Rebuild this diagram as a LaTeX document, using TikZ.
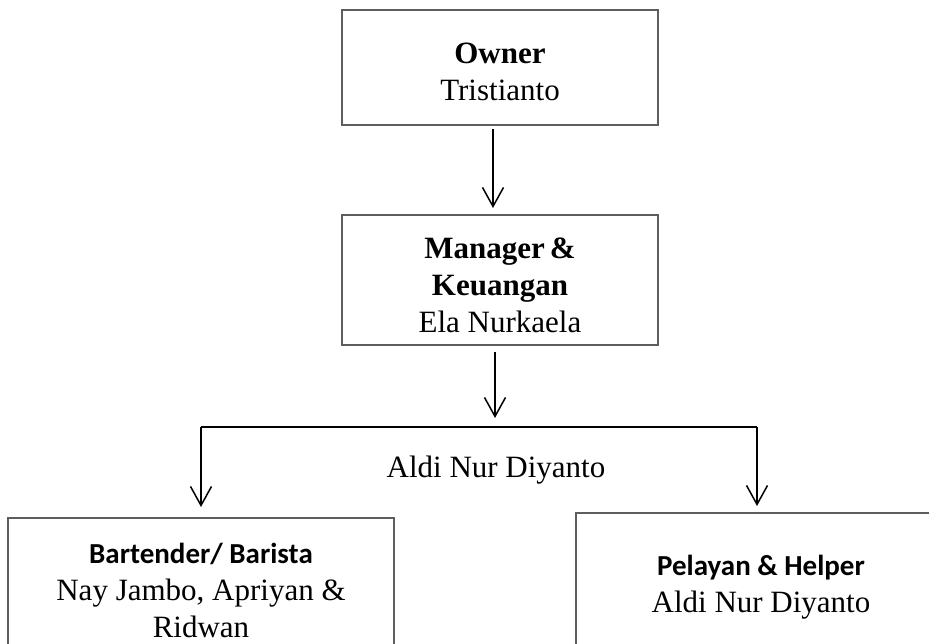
\documentclass[tikz,border=0pt]{standalone}
\usepackage{fontspec}
\setmainfont{Liberation Serif}
\newfontfamily\hdrfont{Carlito}
\usetikzlibrary{arrows.meta}
\definecolor{boxgray}{HTML}{5E5E5E}
\tikzset{
  orgbox/.style={draw=boxgray, line width=2pt, rectangle, inner sep=0pt},
  txt/.style={inner sep=0pt, align=center, font=\fontsize{31}{37}\selectfont},
  link/.style={line width=1.5pt, black},
  arr/.style={link, -{Straight Barb[length=19pt,width=21pt,line width=1.5pt]}},
}
\newcommand{\hdr}[1]{{\hdrfont\fontsize{29}{37}\selectfont\bfseries #1}}
\begin{document}
\begin{tikzpicture}[x=1pt,y=-1pt]
\useasboundingbox (0,0) rectangle (929,644);
\clip (0,0) rectangle (929,644);
\fill[white] (0,0) rectangle (929,644);
% boxes
\node[orgbox, minimum width=316pt, minimum height=115pt] (owner) at (500,67.5) {};
\node[orgbox, minimum width=316pt, minimum height=130pt] (mgr) at (500,280) {};
\node[orgbox, minimum width=386pt, minimum height=144pt] (bar) at (201,590) {};
\node[orgbox, minimum width=370pt, minimum height=146pt] (pel) at (761,586) {};
% box texts
\node[txt] (ownertxt) at ([yshift=-4pt]owner.center) {\textbf{Owner}\\Tristianto};
\node[txt] (mgrtxt) at ([yshift=-5pt]mgr.center) {\textbf{Manager\,\&}\\\textbf{Keuangan}\\Ela Nurkaela};
\node[txt] (bartxt) at ([yshift=0pt]bar.center) {\hdr{Bartender/ Barista}\\Nay Jambo, Apriyan \&\\Ridwan};
\node[txt] (peltxt) at ([yshift=-1pt]pel.center) {\hdr{Pelayan \& Helper}\\Aldi Nur Diyanto};
% middle label
\node[txt, anchor=base] (mid) at (496,477) {Aldi Nur Diyanto};
% connectors
\coordinate (bl) at (201,427);
\coordinate (br) at (757,427);
\draw[arr] ([xshift=-7pt,yshift=-3pt]owner.south) -- ([xshift=-7pt,yshift=6pt]mgr.north);
\draw[arr] ([xshift=-5pt,yshift=-6pt]mgr.south) -- ([xshift=-5pt,yshift=9pt]mgr.south |- bl);
\draw[link] (bl) -- (br);
\draw[arr] (bl) -- ([yshift=10pt]bl |- bar.north);
\draw[arr] (br) -- ([yshift=6pt]br |- pel.north);
\end{tikzpicture}
\end{document}
